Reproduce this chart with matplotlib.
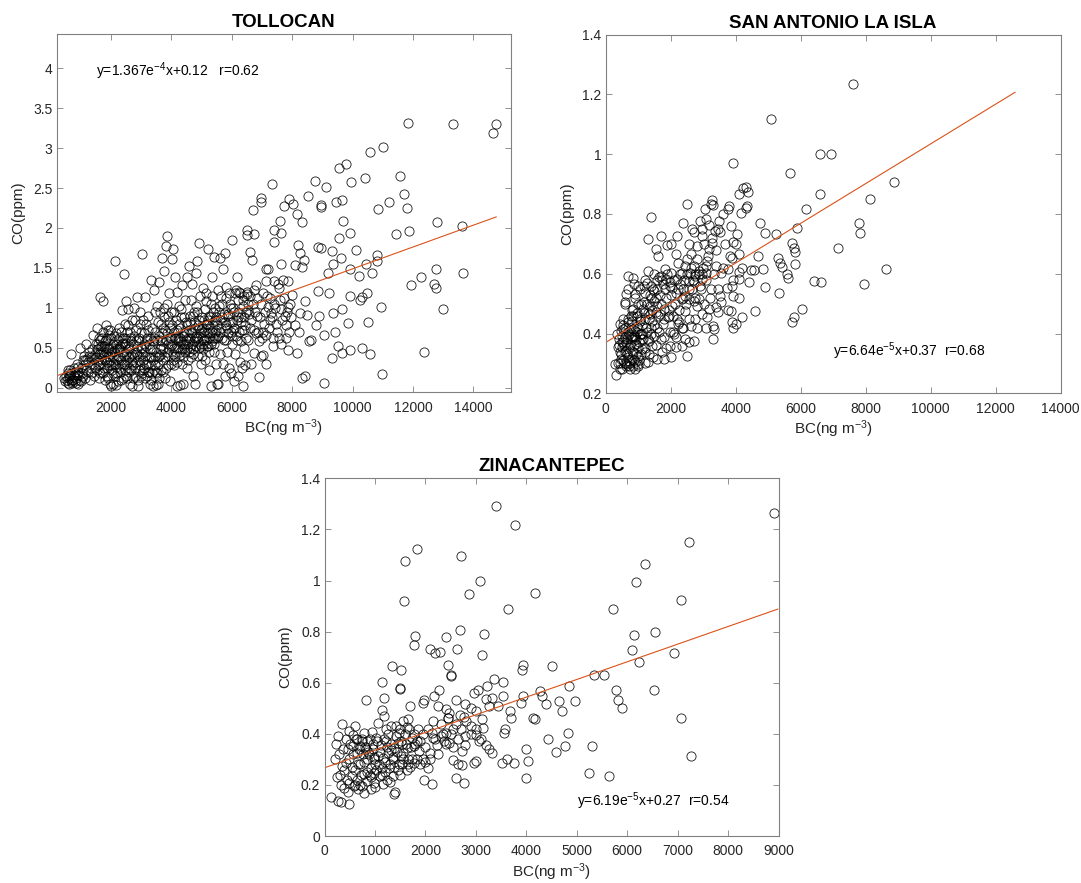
import numpy as np
import matplotlib
matplotlib.use('Agg')
import matplotlib.pyplot as plt
from matplotlib.ticker import FuncFormatter

plt.rcParams['font.family'] = ['Liberation Sans', 'DejaVu Sans']
plt.rcParams['mathtext.fontset'] = 'custom'
plt.rcParams['mathtext.rm'] = 'Liberation Sans'
plt.rcParams['mathtext.it'] = 'Liberation Sans'

# ---- TOLLOCAN (BC ng m-3, CO ppm) ----
tol_pts = [
    (480,0.08),(520,0.15),(560,0.18),(600,0.12),(620,0.05),(650,0.22),(680,0.42),(700,0.10),(720,0.06),(760,0.14),
    (800,0.08),(820,0.20),(850,0.12),(880,0.30),(900,0.05),(940,0.16),(960,0.50),(980,0.10),(1000,0.24),(1020,0.08),
    (1060,0.35),(1080,0.15),(1100,0.40),(1120,0.28),(1150,0.12),(1180,0.54),(1200,0.36),(1230,0.20),(1250,0.32),(1280,0.44),
    (1300,0.10),(1320,0.25),(1350,0.38),(1380,0.48),(1400,0.66),(1420,0.30),(1450,0.15),(1480,0.42),(1500,0.55),(560,0.06),
    (640,0.16),(900,0.20),(1150,0.35),
    (1520,0.22),(1540,0.75),(1560,0.35),(1580,0.48),(1600,0.12),(1620,0.60),(1640,0.30),(1650,1.14),(1680,0.42),(1700,0.52),
    (1720,1.08),(1730,0.18),(1750,0.70),(1760,0.38),(1780,0.25),(1800,0.58),(1820,0.45),(1840,0.78),(1850,0.32),(1870,0.15),
    (1880,0.62),(1900,0.40),(1920,0.28),(1940,0.50),(1950,0.72),(1970,0.05),(1980,0.35),(2000,0.02),(2020,0.45),(2040,0.22),
    (2060,0.55),(2080,0.05),(2100,0.38),(2120,0.30),(2140,1.58),(2150,0.68),(2170,0.03),(2190,0.48),(2200,0.18),(2220,0.60),
    (2240,0.40),(2260,0.75),(2280,0.25),(2300,0.52),(2320,0.10),(2340,0.35),(2360,0.97),(2380,0.62),(2400,0.45),(2420,1.42),
    (2440,0.30),(2460,0.80),(2470,0.55),(2480,0.15),(2490,1.08),(2500,0.42),(1560,0.55),(1690,0.20),(1860,0.50),(2010,0.62),
    (2130,0.15),(2280,0.48),(2450,0.22),(1900,0.72),(2050,0.30),(2350,0.55),
    (2520,0.70),(2540,0.35),(2560,0.98),(2580,0.20),(2600,0.50),(2620,0.62),(2640,0.05),(2660,0.40),(2680,0.85),(2700,0.02),
    (2720,0.28),(2740,0.55),(2760,1.00),(2780,0.15),(2800,0.45),(2820,0.72),(2840,0.32),(2860,1.14),(2880,0.60),(2900,0.02),
    (2920,0.22),(2940,0.40),(2960,0.95),(2980,0.50),(3000,0.70),(3020,1.67),(3040,0.18),(3060,0.35),(3080,0.55),(3100,0.25),
    (3120,1.14),(3140,0.45),(3160,0.80),(3180,0.15),(3200,0.62),(3220,0.30),(3240,0.90),(3260,0.20),(3280,0.48),(3300,0.05),
    (3320,1.35),(3340,0.38),(3360,0.75),(3380,0.02),(3400,0.58),(3420,1.22),(3440,0.28),(3460,0.95),(3480,0.03),(3500,0.45),
    (2570,0.48),(2690,0.32),(2850,0.52),(3010,0.42),(3150,0.30),(3250,0.55),(3390,0.35),(2610,0.25),(2750,0.65),(2910,0.35),
    (3050,0.85),(3190,0.60),(3350,0.18),(3470,0.70),
    (3520,1.02),(3540,0.30),(3560,0.05),(3580,0.65),(3600,1.32),(3620,0.48),(3640,0.80),(3660,0.22),(3680,1.62),(3700,0.58),
    (3720,0.35),(3740,1.00),(3760,1.46),(3780,0.12),(3800,0.72),(3820,1.77),(3840,0.45),(3860,1.90),(3880,0.90),(3900,0.28),
    (3920,1.18),(3940,0.62),(3960,0.08),(3980,0.52),(4000,0.95),(4020,1.61),(4040,0.35),(4060,1.73),(4080,0.70),(4100,0.28),
    (4120,1.38),(4140,0.85),(4160,0.50),(4180,1.20),(4200,0.02),(4220,0.62),(4240,1.02),(4260,0.40),(4280,0.03),(4300,0.75),
    (4320,0.88),(4340,0.30),(4360,1.28),(4380,0.55),(4400,0.05),(4420,0.68),(4440,1.10),(4460,0.45),(4480,0.82),(4500,0.25),
    (3580,0.40),(3720,0.75),(3880,0.55),(4050,0.42),(4210,0.58),(4350,0.48),(3650,0.52),(3950,0.75),(4150,0.62),(4450,0.55),
    (4520,1.38),(4540,0.62),(4560,0.35),(4580,1.52),(4600,0.90),(4620,0.50),(4640,1.10),(4660,0.70),(4680,1.30),(4700,0.42),
    (4720,0.15),(4740,0.82),(4760,0.58),(4780,0.05),(4800,1.43),(4820,0.65),(4840,0.95),(4860,1.58),(4880,0.40),(4900,0.75),
    (4920,1.81),(4940,0.55),(4960,1.15),(4980,0.30),(5000,0.88),(5020,0.62),(5040,1.25),(5060,0.48),(5080,0.70),(5100,0.98),
    (5120,0.35),(5140,0.60),(5160,1.18),(5180,0.80),(5200,1.74),(5220,0.52),(5240,0.90),(5260,0.22),(5280,0.68),(5300,1.05),
    (5320,0.02),(5340,0.58),(5360,1.38),(5380,0.82),(5400,0.45),(5420,1.64),(5440,0.70),(5460,1.00),(5480,0.30),(5500,0.05),
    (4640,0.38),(4850,0.62),(5050,0.55),(5250,0.62),(5450,0.62),(4750,0.95),(4950,0.68),(5150,0.80),
    (5520,0.62),(5540,0.05),(5560,1.22),(5580,0.95),(5600,0.42),(5620,1.62),(5640,0.75),(5660,0.88),(5680,1.05),(5700,0.30),
    (5720,1.48),(5740,0.60),(5760,1.68),(5780,0.15),(5800,0.78),(5820,1.26),(5840,0.45),(5860,0.92),(5880,0.68),(5900,1.18),
    (5920,0.25),(5940,0.82),(5960,0.18),(5980,1.00),(6000,0.55),(6020,1.85),(6040,0.72),(6060,0.08),(6080,0.95),(6100,1.18),
    (6120,0.42),(6140,0.65),(6160,1.39),(6180,0.85),(6200,0.15),(6220,1.10),(6240,0.70),(6260,0.32),(6280,1.18),(6300,0.58),
    (6320,0.88),(6340,0.25),(6360,1.02),(6380,0.02),(6400,0.72),(6420,1.15),(6440,0.28),(6460,0.62),(6480,0.95),(6500,1.91),
    (5600,0.85),(5800,0.60),(6000,0.82),(6200,0.88),(6400,0.50),
    (6510,1.97),(6510,1.17),(6550,0.97),(6620,1.70),(6680,1.60),(6700,2.23),(6740,1.92),(6740,1.22),(6740,0.43),(6800,1.28),
    (6800,0.68),(6910,0.58),(6910,0.13),(6960,2.38),(6960,2.33),(6960,0.39),(7020,1.18),(7020,0.41),(7070,0.80),(7130,1.49),
    (7130,1.33),(7130,0.66),(7130,0.30),(7190,1.48),(7190,1.01),(7300,0.93),(7325,2.55),(7410,1.97),(7410,1.82),(7410,1.33),
    (7410,1.05),(7590,2.09),(7590,1.10),(7640,1.93),(7640,1.55),(7640,0.55),(7700,1.35),(7720,2.27),(7870,1.33),(7870,1.01),
    (7870,0.47),(7900,2.36),(7980,1.16),(8040,2.30),(6600,0.75),(6850,0.90),(7000,0.62),(7250,0.85),(7500,0.70),(7750,0.90),
    (6650,0.30),(7350,0.52),(7550,1.25),(7800,0.78),(6550,1.05),
    (8100,1.53),(8100,0.78),(8160,0.43),(8165,2.18),(8210,1.79),(8230,0.70),(8270,1.68),(8270,0.93),(8330,2.07),(8330,1.51),
    (8330,0.12),(8380,1.60),(8440,1.08),(8440,0.15),(8500,0.91),(8520,2.40),(8550,0.58),(8610,0.60),(8780,0.78),(8770,2.59),
    (8870,1.76),(8870,1.21),(8890,0.89),(8940,2.29),(8940,2.26),(8950,1.75),(9060,0.66),(9060,0.06),(9120,2.51),(9180,1.43),
    (9230,1.19),(9320,1.71),(9320,0.37),(9350,1.55),(9350,0.93),(9410,0.69),(9460,2.33),(9510,0.52),(9550,2.75),(9550,1.87),
    (9630,1.62),(9650,2.35),(9660,0.98),(9660,0.43),(9700,2.09),(9780,2.80),(9860,0.81),(9910,1.93),(9910,1.48),(9910,1.15),
    (9910,0.47),(9940,2.57),(10120,1.72),(10200,1.40),(10250,1.10),(10310,1.13),(10330,0.49),(10400,2.62),(10460,1.55),(10480,1.18),
    (10510,0.82),(10590,2.95),(10590,0.42),(10650,1.43),(10820,1.58),(10820,1.66),(10860,2.24),(10930,1.01),(10970,0.17),(11010,3.01),
    (11220,2.32),(11430,1.92),(11580,2.65),(11700,2.43),(11790,2.25),(11850,3.31),(11880,1.96),(11930,1.28),(12260,1.39),(12370,0.44),
    (12690,1.30),(12750,1.25),(12750,1.49),(12790,2.08),(13010,0.98),(13320,3.30),(13630,2.02),(13660,1.44),(14640,3.19),(14760,3.30),
]
# the crowded core of the Tollocan cloud
tol_pts_core = [
    (450,0.12),(540,0.10),(580,0.22),(610,0.14),(660,0.08),(690,0.18),(740,0.10),(780,0.24),(830,0.06),(870,0.16),
    (920,0.26),(1040,0.18),(1170,0.22),(1260,0.40),(1340,0.18),(1440,0.36),(1470,0.25),
    (1510,0.38),(1530,0.48),(1570,0.28),(1590,0.62),(1610,0.42),(1630,0.18),(1660,0.52),(1670,0.36),(1710,0.62),(1740,0.44),
    (1770,0.52),(1790,0.10),(1810,0.34),(1830,0.60),(1860,0.24),(1890,0.48),(1910,0.12),(1930,0.66),(1960,0.42),(1990,0.28),
    (2030,0.50),(2070,0.18),(2090,0.64),(2110,0.46),(2160,0.26),(2180,0.55),(2210,0.35),(2230,0.08),(2250,0.50),(2270,0.62),
    (2290,0.38),(2310,0.20),(2330,0.70),(2370,0.30),(2390,0.12),(2410,0.56),(2430,0.40),(2460,0.62),(2490,0.28),
    (2510,0.56),(2530,0.12),(2550,0.78),(2590,0.38),(2630,0.70),(2650,0.22),(2670,0.58),(2710,0.42),(2730,0.12),(2770,0.38),
    (2790,0.85),(2810,0.25),(2830,0.58),(2870,0.42),(2890,0.10),(2930,0.62),(2950,0.28),(2970,0.80),(2990,0.15),(3030,0.48),
    (3070,0.22),(3090,0.68),(3110,0.40),(3130,0.12),(3170,0.52),(3210,0.20),(3230,0.72),(3270,0.38),(3290,0.62),(3310,0.28),
    (3330,0.10),(3370,0.48),(3410,0.22),(3430,0.62),(3450,0.40),(3490,0.20),
    (3510,0.60),(3530,0.18),(3550,0.82),(3570,0.38),(3590,0.12),(3610,0.60),(3630,0.95),(3670,0.42),(3690,0.68),(3710,0.20),
    (3730,0.50),(3770,0.88),(3790,0.38),(3810,0.60),(3830,0.25),(3850,1.05),(3870,0.68),(3890,0.40),(3910,0.82),(3930,0.48),
    (3970,0.30),(3990,0.62),(4010,0.78),(4030,0.55),(4070,0.50),(4090,0.95),(4110,0.62),(4130,0.40),(4170,0.72),(4190,0.32),
    (4230,0.50),(4250,0.80),(4270,0.62),(4290,0.45),(4310,0.58),(4330,0.98),(4370,0.65),(4390,0.38),(4410,0.88),(4430,0.50),
    (4470,0.70),(4490,0.60),
    (4510,0.48),(4530,0.78),(4550,0.55),(4570,0.72),(4590,0.45),(4610,0.62),(4630,0.82),(4670,0.55),(4690,0.68),(4710,0.90),
    (4730,0.48),(4770,0.75),(4790,0.62),(4810,0.52),(4830,1.02),(4870,0.78),(4890,0.58),(4910,0.50),(4930,0.85),(4970,0.72),
    (4990,0.52),(5010,0.75),(5030,0.40),(5070,0.85),(5090,0.60),(5110,0.72),(5130,1.08),(5170,0.52),(5190,0.68),(5210,0.85),
    (5230,0.45),(5270,0.75),(5290,0.88),(5310,0.55),(5330,1.15),(5350,0.70),(5370,0.62),(5390,0.95),(5410,0.55),(5430,0.85),
    (5470,0.72),(5490,0.88),(5510,0.78),(5550,0.65),(5570,1.02),(5610,0.70),(5650,1.15),(5690,0.62),(5730,0.92),(5770,0.82),
    (5810,1.12),(5850,0.75),(5890,0.90),(5930,1.05),(5970,0.70),
    (6010,0.65),(6050,1.00),(6090,0.75),(6130,1.22),(6170,0.60),(6210,0.95),(6250,1.20),(6290,0.82),(6330,0.72),(6370,1.10),
    (6410,0.88),(6450,0.78),(6490,1.20),(6530,0.60),(6570,0.92),(6610,1.15),(6650,0.85),(6690,1.05),(6730,0.72),(6770,0.95),
    (6830,1.12),(6870,0.70),(6930,0.88),(6970,1.05),
    (7050,0.70),(7100,0.95),(7160,1.15),(7220,0.75),(7280,1.12),(7340,0.88),(7380,0.62),(7440,1.00),(7480,0.80),(7520,1.30),
    (7580,0.62),(7620,0.98),(7680,0.85),(7730,1.12),(7780,0.62),(7830,0.95),(7880,0.70),(7930,1.05),(7960,0.88),
]
tol_bc = [p[0] for p in tol_pts + tol_pts_core]
tol_co = [p[1] for p in tol_pts + tol_pts_core]
tol_fit_x = [200, 14760]
tol_slope, tol_icept = 1.367e-4, 0.12

# ---- SAN ANTONIO LA ISLA ----
san_pts = [
    (7615,1.233),(5098,1.116),(6584,1.001),(6924,1.002),(3908,0.971),(5660,0.938),(8868,0.907),(6605,0.868),(8124,0.851),(6159,0.818),
    (7806,0.769),(7827,0.735),(7147,0.685),(8634,0.617),(7965,0.565),(6425,0.576),(6637,0.571),(5894,0.754),(5735,0.704),(5788,0.687),
    (5820,0.671),(5820,0.632),(5575,0.598),(5607,0.584),(5257,0.734),(5289,0.651),(5363,0.637),(5438,0.621),(5342,0.535),(5735,0.439),
    (5809,0.454),(6032,0.482),(4917,0.735),(4758,0.768),(4694,0.660),(4843,0.617),(4567,0.613),(4482,0.613),(4917,0.554),(4598,0.476),
    (4407,0.573),(4195,0.454),(4333,0.891),(4386,0.873),(4354,0.827),(4333,0.821),(4227,0.888),(4089,0.866),(4174,0.804),(4057,0.732),
    (3930,0.706),(4089,0.665),(4089,0.606),(4089,0.582),(3877,0.651),(3771,0.617),(3855,0.760),(3771,0.818),(3802,0.826),(3611,0.799),
    (3483,0.777),(3452,0.749),(3377,0.743),(3260,0.846),(3292,0.829),(3239,0.832),(3059,0.818),(2889,0.777),(3271,0.704),(3165,0.682),
    (3133,0.643),(3080,0.626),(2974,0.598),(3398,0.626),(3558,0.604),(3749,0.551),(3877,0.560),(3908,0.526),(3855,0.476),(3877,0.437),
    (3908,0.420),(4014,0.432),(3239,0.548),(3505,0.526),(3558,0.504),(3398,0.487),(3452,0.473),(3292,0.426),(3345,0.415),(3080,0.420),
    (3292,0.381),(3112,0.454),(2952,0.465),(2814,0.493),(2761,0.448),(2708,0.376),(2549,0.370),(2496,0.326),(2443,0.476),(2443,0.381),
    (2336,0.359),(2230,0.432),(2177,0.387),(2071,0.404),(2496,0.832),(2390,0.771),(2209,0.726),(2018,0.699),(1890,0.695),(1699,0.726),
    (1614,0.660),(1540,0.682),(1402,0.788),(1296,0.715),(2177,0.665),(2230,0.637),(2655,0.749),(2708,0.738),(2549,0.699),(2496,0.649),
    (2623,0.665),(2708,0.626),(2740,0.598),(2974,0.749),(2814,0.693),(2952,0.726),(3080,0.782),(3165,0.762),
    (319,0.262),(287,0.298),(510,0.281),(425,0.337),(372,0.354),(531,0.415),(584,0.504),(637,0.532),(690,0.591),(828,0.587),
    (881,0.565),(903,0.532),(1062,0.548),(1168,0.560),(1296,0.610),(1274,0.568),(1380,0.560),(1221,0.535),(1487,0.543),(1646,0.590),
    (1752,0.565),(1858,0.582),(1965,0.571),(2050,0.551),(2177,0.537),(2283,0.565),(2209,0.582),(1997,0.604),(1827,0.615),(1699,0.593),
    (1593,0.548),(1487,0.509),(1593,0.493),(1678,0.465),(1805,0.482),(1912,0.454),(2039,0.493),(1752,0.432),(1646,0.404),(1805,0.387),
    (1965,0.359),(2018,0.320),(1720,0.337),(1572,0.315),(1434,0.359),(1296,0.304),(1221,0.337),(1115,0.348),(1009,0.326),(903,0.304),
    (796,0.315),(828,0.337),(722,0.354),(637,0.370),(765,0.393),(850,0.415),(977,0.404),(1115,0.381),(1274,0.404),(1380,0.420),
    (1221,0.448),(1359,0.465),(1434,0.443),(1062,0.443),(956,0.459),(850,0.482),(765,0.459),(690,0.437),(584,0.387),(489,0.370),
    (478,0.315),(616,0.298),(722,0.309),(935,0.365),(1062,0.398),(1147,0.482),(1009,0.498),(1168,0.504),(1359,0.493),(1540,0.471),
    (1593,0.420),(1487,0.393),(1327,0.376),(796,0.387),(903,0.387),(690,0.404),(956,0.426),(796,0.443),(531,0.448),(425,0.432),
    (404,0.381),(743,0.281),(903,0.281),(850,0.292),(1009,0.298),(584,0.337),(510,0.354),(1965,0.404),(2177,0.354),(1805,0.315),
    (2336,0.604),(2443,0.626),(2602,0.604),(2549,0.576),(2708,0.571),(2655,0.548),(2761,0.593),(2867,0.610),(2974,0.582),(2889,0.560),
    (3080,0.604),(2368,0.548),(2443,0.526),(2336,0.515),(2549,0.515),(2708,0.509),(2867,0.515),(3027,0.498),(3186,0.482),(2549,0.448),
    (2634,0.426),(2390,0.420),(2814,0.420),
]
san_pts_core = [
    (350,0.40),(380,0.30),(410,0.36),(440,0.28),(460,0.41),(480,0.33),(500,0.39),(520,0.31),(540,0.43),(560,0.36),
    (580,0.30),(600,0.42),(620,0.34),(640,0.29),(660,0.38),(680,0.45),(700,0.32),(720,0.40),(740,0.36),(760,0.30),
    (780,0.42),(800,0.34),(820,0.38),(840,0.46),(860,0.31),(880,0.36),(900,0.41),(920,0.33),(940,0.38),(960,0.47),
    (980,0.35),(1000,0.42),(1020,0.31),(1040,0.37),(1060,0.45),(1080,0.40),(1100,0.33),(1130,0.43),(1160,0.38),(1190,0.47),
    (1220,0.35),(1250,0.42),(1280,0.50),(1310,0.38),(1340,0.45),(1370,0.53),(1400,0.40),(1430,0.48),(1460,0.55),(1500,0.43),
    (1540,0.52),(1580,0.58),(1620,0.46),(1660,0.53),(1700,0.50),(1740,0.58),(1780,0.45),(1820,0.55),(1860,0.52),(1900,0.60),
    (1940,0.48),(1980,0.56),(2020,0.53),(2060,0.46),(2100,0.58),(2140,0.50),(2180,0.45),(2220,0.55),(2260,0.48),(2300,0.60),
    (2340,0.42),(2380,0.52),(2420,0.58),(2460,0.50),(2500,0.60),(2560,0.55),(2620,0.62),(2680,0.58),(2740,0.52),(2800,0.65),
    (2860,0.60),(2920,0.55),(2980,0.62),(3040,0.70),(3100,0.58),(3160,0.66),(3220,0.52),(3280,0.72),(3340,0.60),(3400,0.68),
    (3460,0.55),(3520,0.74),(3600,0.62),(3680,0.70),(3760,0.48),(3840,0.66),(3920,0.58),(4000,0.70),(4100,0.52),(4200,0.62),
    (450,0.30),(520,0.37),(650,0.33),(710,0.29),(870,0.39),(990,0.29),(1120,0.40),(1200,0.30),(1320,0.33),(1450,0.32),
    (1560,0.36),(1700,0.38),(1850,0.35),(1950,0.46),(2100,0.40),(2250,0.44),(600,0.50),(700,0.55),(800,0.48),(900,0.52),
    (1000,0.56),(1100,0.50),(1200,0.58),(1300,0.47),(1400,0.52),(1500,0.60),
]
san_bc = [p[0] for p in san_pts + san_pts_core]
san_co = [p[1] for p in san_pts + san_pts_core]
san_fit_x = [0, 12600]
san_slope, san_icept = 6.64e-5, 0.37

# ---- ZINACANTEPEC ----
zin_pts = [
    (3396,1.292),(3785,1.218),(8915,1.266),(7217,1.149),(1839,1.123),(2710,1.094),(1592,1.077),(6353,1.065),(3092,0.999),(6169,0.996),
    (4174,0.953),(2865,0.948),(1571,0.919),(7075,0.922),(3644,0.888),(5710,0.888),(2689,0.807),(3163,0.792),(1790,0.784),(2406,0.779),
    (6559,0.798),(6134,0.785),(1769,0.746),(2101,0.732),(2618,0.732),(2193,0.716),(2285,0.719),(3127,0.710),(6099,0.727),(6226,0.681),
    (6919,0.715),(1330,0.664),(1507,0.649),(2455,0.671),(3941,0.669),(3912,0.651),(4514,0.667),(2512,0.632),(2512,0.625),(3361,0.615),
    (3537,0.602),(5349,0.632),(5533,0.629),(1146,0.602),(1500,0.580),(1500,0.576),(6523,0.573),(5782,0.573),(5824,0.534),(5894,0.501),
    (4853,0.586),(4280,0.567),(4316,0.547),(4387,0.518),(4648,0.527),(4974,0.529),(4705,0.488),(4832,0.404),(4776,0.352),(4599,0.329),
    (4422,0.380),(5306,0.354),(5250,0.247),(5646,0.234),(7061,0.460),(7266,0.313),(4139,0.462),(4174,0.456),(4004,0.339),(4033,0.293),
    (3997,0.228),(3750,0.284),(3516,0.287),(3608,0.300),(3573,0.419),(3559,0.404),(3927,0.547),(3905,0.521),(3679,0.488),(3693,0.462),
    (3254,0.508),(3431,0.508),(3537,0.547),(3325,0.540),(3042,0.573),(2972,0.560),(3219,0.586),(3205,0.537),(2264,0.573),(2179,0.547),
    (2243,0.508),(1946,0.521),(1981,0.534),(1698,0.508),(1189,0.540),(814,0.534),(1132,0.495),(1189,0.469),(1061,0.443),(1557,0.449),
    (1663,0.456),(1627,0.427),(2795,0.518),(2604,0.531),(2406,0.497),(2476,0.482),(2455,0.460),(2547,0.417),(2689,0.475),(2760,0.466),
    (2901,0.501),(3007,0.488),(3113,0.456),(3148,0.423),(3007,0.397),(3056,0.371),(3198,0.358),(3254,0.339),(3325,0.326),(2901,0.430),
    (2795,0.391),(2780,0.358),(2724,0.332),(2406,0.404),(2300,0.391),(2370,0.371),(2476,0.365),(2229,0.358),(2123,0.404),(2158,0.384),
    (2087,0.326),(2052,0.267),(1981,0.221),(2137,0.202),(2604,0.228),(2653,0.280),(2724,0.276),(2773,0.206),(2972,0.284),(3007,0.293),
    (2547,0.297),
    (127,0.152),(262,0.137),(318,0.133),(481,0.126),(248,0.232),(269,0.391),(340,0.440),(297,0.319),(340,0.273),(389,0.189),
    (460,0.172),(424,0.287),(460,0.339),(495,0.410),(601,0.430),(566,0.397),(651,0.378),(707,0.352),(764,0.319),(778,0.241),
    (743,0.195),(672,0.182),(580,0.195),(552,0.234),(601,0.260),(849,0.215),(920,0.182),(991,0.208),(1097,0.234),(1167,0.202),
    (1238,0.221),(849,0.300),(920,0.267),(1005,0.280),(1061,0.313),(955,0.339),(849,0.371),(792,0.404),(934,0.406),(1026,0.384),
    (1118,0.358),(1217,0.371),(1309,0.336),(1358,0.300),(1288,0.267),(1358,0.234),(1450,0.260),(1401,0.172),(1380,0.163),(1542,0.280),
    (1627,0.260),(1557,0.326),(1521,0.371),(1472,0.404),(1415,0.430),(1309,0.430),(1217,0.417),(1450,0.365),(1627,0.345),(1733,0.384),
    (1769,0.352),(1839,0.371),(1875,0.332),(1946,0.300),(1769,0.287),(1663,0.300),
    (566,0.352),(637,0.326),(743,0.378),(814,0.339),(884,0.319),(976,0.300),(1167,0.306),(1259,0.326),(1380,0.345),(1521,0.313),
    (1132,0.267),(707,0.280),(495,0.208),(637,0.221),(778,0.169),(976,0.247),
]
zin_pts_core = [
    (200,0.30),(230,0.36),(300,0.24),(330,0.20),(360,0.34),(390,0.26),(420,0.38),(450,0.22),(480,0.30),(510,0.36),
    (540,0.27),(570,0.32),(600,0.20),(630,0.38),(660,0.28),(690,0.34),(720,0.24),(750,0.37),(780,0.29),(810,0.35),
    (840,0.25),(870,0.33),(900,0.38),(930,0.23),(960,0.36),(990,0.31),(1020,0.26),(1050,0.37),(1080,0.28),(1110,0.33),
    (1140,0.24),(1170,0.38),(1200,0.29),(1230,0.35),(1260,0.40),(1290,0.28),(1320,0.36),(1350,0.31),(1380,0.27),(1410,0.39),
    (1440,0.33),(1470,0.28),(1500,0.42),(1530,0.36),(1560,0.30),(1590,0.40),(1620,0.36),(1650,0.28),(1680,0.42),(1710,0.35),
    (1740,0.30),(1770,0.40),(1800,0.36),(1830,0.30),(1860,0.42),(1900,0.37),(1950,0.40),(2000,0.35),(2050,0.42),(2100,0.30),
    (2150,0.45),(2200,0.38),(2250,0.32),(2300,0.44),(2350,0.40),(2400,0.36),(2450,0.46),(2500,0.40),(2550,0.35),(2600,0.44),
    (2650,0.38),(2700,0.42),(2800,0.45),(2900,0.40),(3000,0.42),(3100,0.38),(700,0.20),(900,0.24),(1000,0.19),(1200,0.25),
    (1300,0.21),(1500,0.24),(1700,0.27),(1900,0.28),(2000,0.29),
]
zin_bc = [p[0] for p in zin_pts + zin_pts_core]
zin_co = [p[1] for p in zin_pts + zin_pts_core]
zin_fit_x = [0, 8985]
zin_fit_y = [0.267, 0.888]   # drawn line as it appears in the figure

eq_tol = r'y=1.367e$^{-4}$x+0.12   r=0.62'
eq_san = r'y=6.64e$^{-5}$x+0.37  r=0.68'
eq_zin = r'y=6.19e$^{-5}$x+0.27  r=0.54'

W, H = 1081, 883
fig = plt.figure(figsize=(W/100, H/100), dpi=100)

axis_grey = '#808080'
text_grey = '#262626'
line_col = '#D95319'


def panel(rect, bc, co, fx, fy, title, xlim, ylim, xticks, yticks, eq, eqpos):
    ax = fig.add_axes(rect)
    ax.plot(bc, co, linestyle='none', marker='o', ms=6.6, mfc='none', mec='k', mew=0.6, alpha=0.9)
    ax.plot(fx, fy, color=line_col, lw=0.8)
    ax.set_xlim(xlim)
    ax.set_ylim(ylim)
    ax.set_xticks(xticks)
    ax.set_yticks(yticks)
    ax.yaxis.set_major_formatter(FuncFormatter(lambda v, p: '%g' % round(v, 2)))
    ax.xaxis.set_major_formatter(FuncFormatter(lambda v, p: '%d' % v))
    ax.tick_params(direction='in', top=True, right=True, length=4, width=0.6,
                   color=axis_grey, labelcolor=text_grey, labelsize=10)
    ax.tick_params(axis='x', pad=6)
    ax.tick_params(axis='y', pad=3)
    for s in ax.spines.values():
        s.set_color(axis_grey)
        s.set_linewidth(0.8)
    ax.set_xlabel(r'BC(ng m$^{-3}$)', fontsize=11, color=text_grey, labelpad=2)
    ax.set_ylabel('CO(ppm)', fontsize=11, color=text_grey, labelpad=6)
    ax.set_title(title, fontsize=13.5, fontweight='bold', pad=5)
    ax.text(eqpos[0], eqpos[1], eq, fontsize=10, color='k', va='center', ha='left')
    return ax


tol_fit_y = [tol_slope * x + tol_icept for x in tol_fit_x]
san_fit_y = [san_slope * x + san_icept for x in san_fit_x]

panel([56.7/W, (H-392.3)/H, 454.3/W, 358.3/H], tol_bc, tol_co, tol_fit_x, tol_fit_y, 'TOLLOCAN',
      (200, 15250), (-0.06, 4.43), range(2000, 14001, 2000), np.arange(0, 4.01, 0.5), eq_tol, (1500, 3.96))
panel([605.7/W, (H-393.3)/H, 454.8/W, 358.8/H], san_bc, san_co, san_fit_x, san_fit_y, 'SAN ANTONIO LA ISLA',
      (0, 14000), (0.2, 1.4), range(0, 14001, 2000), np.arange(0.2, 1.41, 0.2), eq_san, (7000, 0.34))
panel([324.5/W, (H-836)/H, 454/W, 357.7/H], zin_bc, zin_co, zin_fit_x, zin_fit_y, 'ZINACANTEPEC',
      (0, 9000), (0, 1.4), range(0, 9001, 1000), np.arange(0, 1.41, 0.2), eq_zin, (5010, 0.137))

fig.savefig('out.png', dpi=100)
